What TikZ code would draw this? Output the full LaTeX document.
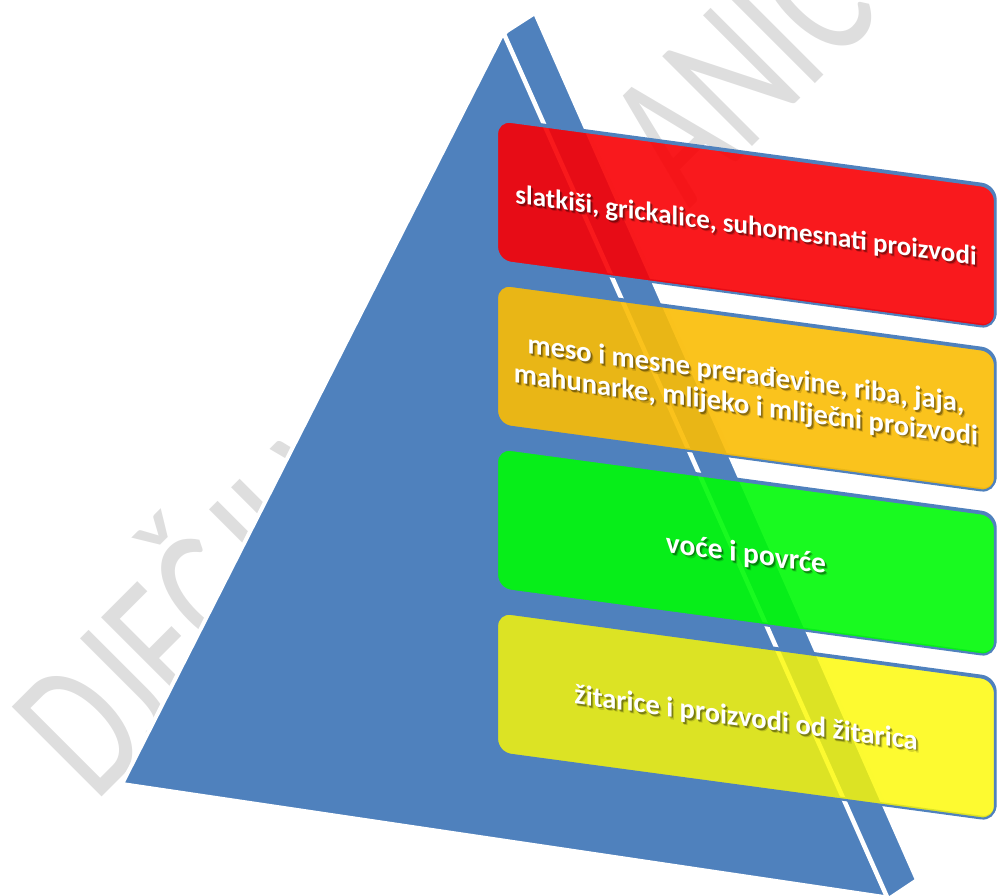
\documentclass[tikz,border=0pt]{standalone}
\usepackage{fontspec}
\setmainfont{Carlito}
\definecolor{pyrblue}{RGB}{79,129,189}
\definecolor{wmgray}{RGB}{222,222,222}
\definecolor{boxred}{RGB}{248,0,4}
\definecolor{boxorange}{RGB}{250,188,4}
\definecolor{boxgreen}{RGB}{0,250,8}
\definecolor{boxyellow}{RGB}{252,249,3}
\begin{document}
\begin{tikzpicture}[x=1pt,y=-1pt,
  wmark/.style={text=wmgray, inner sep=0pt, anchor=base west,
    font=\fontsize{198}{198}\selectfont},
  tier/.style={draw=pyrblue, line width=2.2pt, rounded corners=14pt,
    minimum width=498pt, minimum height=141pt, inner sep=0pt,
    fill=#1, fill opacity=0.9, draw opacity=1},
  tierback/.style={draw=pyrblue, line width=2.2pt, rounded corners=14pt,
    minimum width=498pt, minimum height=141pt, inner sep=0pt},
  tiertext/.style={text=white, align=center, inner sep=0pt, yshift=-3pt,
    font=\fontsize{#1}{31}\selectfont\bfseries},
  tiershadow/.style={tiertext=#1, text=black, text opacity=0.35,
    xshift=1.6pt, yshift=-1.6pt},
  tierhaze/.style={tiertext=#1, text=black, text opacity=0.15,
    xshift=2.6pt, yshift=-2.6pt}
]
\useasboundingbox (0,0) rectangle (997,896);

% watermark lettering, set at 45 degrees behind everything
\node[wmark, rotate=45, xscale=0.69] (wm) at (95,804)
  {DJEČJI V\hphantom{RTIĆ IV}ANIĆ};

% pyramid: front face and side strip, split by a white crease
\fill[pyrblue, draw=white, line width=4pt, line join=miter]
  (122,784) -- (501,37) -- (507,31) -- (535,13) -- (917,880)
  -- (890,898) -- (884,897) -- cycle;
\draw[white, line width=4.5pt] (500,25) -- (891,906);

% the four tiers, sheared along the slope of the pyramid
\begin{scope}[yslant=-0.135, transform shape]
  \node[tierback, xshift=0.6pt, yshift=1.6pt] at (746,123.4) {};
  \node[tier=boxred] (sweets) at (746,123.4) {};
  \node[tierback, xshift=0.6pt, yshift=1.6pt] at (746,287.4) {};
  \node[tier=boxorange] (protein) at (746,287.4) {};
  \node[tierback, xshift=0.6pt, yshift=1.6pt] at (746,451.4) {};
  \node[tier=boxgreen] (veg) at (746,451.4) {};
  \node[tierback, xshift=0.6pt, yshift=1.6pt] at (746,615.4) {};
  \node[tier=boxyellow, fill opacity=0.82] (grain) at (746,615.4) {};

  \foreach \s in {tierhaze,tiershadow,tiertext}{
    \node[\s=27] at (sweets.center)
      {slatkiši, grickalice, suhomesnati proizvodi};
    \node[\s=28.5] at (protein.center)
      {meso i mesne prerađevine, riba, jaja,\\mahunarke, mlijeko i mliječni proizvodi};
    \node[\s=29.5] at (veg.center) {voće i povrće};
    \node[\s=28.5] at (grain.center) {žitarice i proizvodi od žitarica};
  }
\end{scope}
\end{tikzpicture}
\end{document}
